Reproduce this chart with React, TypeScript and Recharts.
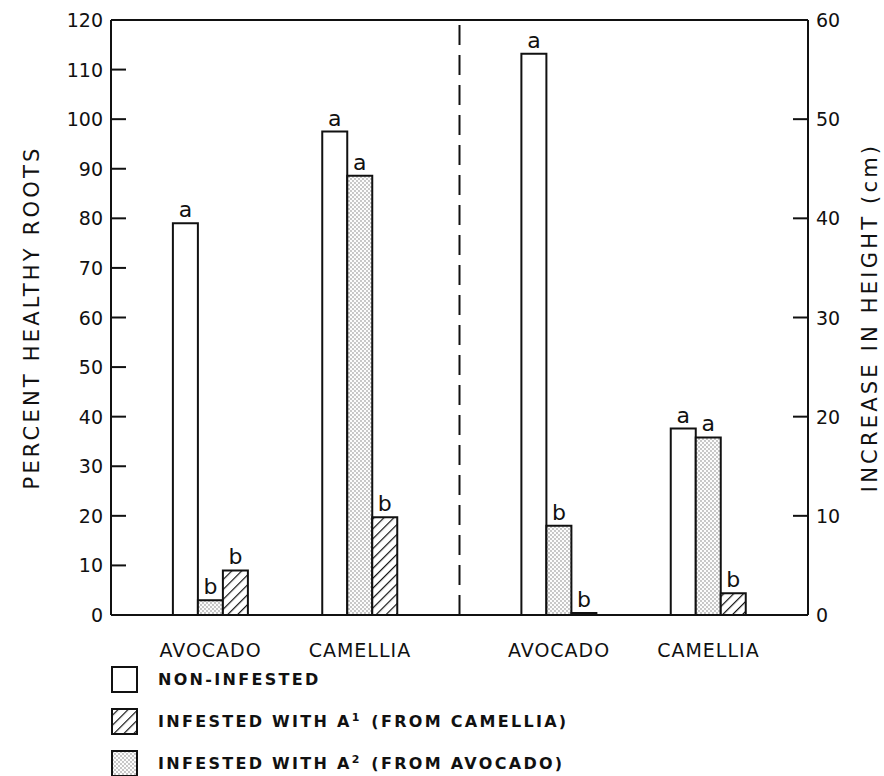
import { Bar, BarChart, LabelList, Legend, ReferenceLine, XAxis, YAxis } from "recharts";

const CATEGORIES = ["AVOCADO", "CAMELLIA", "AVOCADO", "CAMELLIA"];
// left half is read on the roots axis, right half on the height axis
const MEASURE = ["roots", "roots", "height", "height"];

const NON_INFESTED = [79, 97.5, 56.6, 18.8];
const INFESTED_A2 = [3, 88.6, 9, 17.9];
const INFESTED_A1 = [9, 19.7, 0.2, 2.2];

const SIG_NON = ["a", "a", "a", "a"];
const SIG_A2 = ["b", "a", "b", "a"];
const SIG_A1 = ["b", "b", "b", "b"];

const ROOT_TICKS = [0, 10, 20, 30, 40, 50, 60, 70, 80, 90, 100, 110, 120];
const HEIGHT_TICKS = [0, 10, 20, 30, 40, 50, 60];

const LEGEND_LABELS = [
  "NON-INFESTED",
  "INFESTED WITH A\u00b9 (FROM CAMELLIA)",
  "INFESTED WITH A\u00b2 (FROM AVOCADO)",
];

// layout: where each group sits on a 0..14 x scale, divider in the middle
const GROUP_X = [2, 5, 9, 12];
const DIVIDER_X = 7;

const INK = "#111";
const FONT = "'DejaVu Sans', sans-serif";
const TICK_LEN = 15;
const TICK_GAP = 8;

const SERIES = [
  { key: "Non", values: NON_INFESTED, sig: SIG_NON, fill: "#fff" },
  { key: "A2", values: INFESTED_A2, sig: SIG_A2, fill: "url(#stipple)" },
  { key: "A1", values: INFESTED_A1, sig: SIG_A1, fill: "url(#hatch)" },
];
const LEGEND_FILLS = ["#fff", "url(#hatch)", "url(#stipple)"];

const rows = CATEGORIES.map((name, i) => {
  const row: Record<string, string | number> = { x: GROUP_X[i], name };
  SERIES.forEach((s) => {
    row[`${MEASURE[i]}${s.key}`] = s.values[i];
    row[`${MEASURE[i]}${s.key}Sig`] = s.sig[i];
  });
  return row;
});

function Patterns() {
  return (
    <svg width={0} height={0} style={{ position: "absolute" }}>
      <defs>
        <pattern id="hatch" width={7} height={7} patternUnits="userSpaceOnUse" patternTransform="rotate(45)">
          <rect width={7} height={7} fill="#fff" />
          <line x1={0} y1={0} x2={0} y2={7} stroke={INK} strokeWidth={2.4} />
        </pattern>
        <pattern id="stipple" width={4} height={4} patternUnits="userSpaceOnUse">
          <rect width={4} height={4} fill="#fcfcfc" />
          <circle cx={1} cy={1} r={0.65} fill="#666" />
          <circle cx={3} cy={3} r={0.65} fill="#666" />
        </pattern>
      </defs>
    </svg>
  );
}

// tick marks point into the plot, labels stay outside
function InwardTick(props: any) {
  const { x, y, payload, orientation } = props;
  const left = orientation === "left";
  const axisX = left ? x + TICK_GAP : x - TICK_GAP;
  const inner = left ? axisX + TICK_LEN : axisX - TICK_LEN;
  return (
    <g>
      <line x1={axisX} x2={inner} y1={y} y2={y} stroke={INK} strokeWidth={2} />
      <text
        x={x}
        y={y}
        textAnchor={left ? "end" : "start"}
        dominantBaseline="central"
        fill={INK}
        fontSize={19}
        fontFamily={FONT}
      >
        {payload.value}
      </text>
    </g>
  );
}

function LegendText({ label }: { label: string }) {
  return (
    <span style={{ marginLeft: 19, whiteSpace: "nowrap" }}>
      {label.split(/([\u00b9\u00b2])/).map((part, i) =>
        part === "\u00b9" || part === "\u00b2" ? (
          <sup key={i} style={{ fontSize: 11, letterSpacing: 0, marginRight: 4 }}>
            {part === "\u00b9" ? "1" : "2"}
          </sup>
        ) : (
          <span key={i}>{part}</span>
        )
      )}
    </span>
  );
}

function renderLegend() {
  return (
    <div style={{ fontFamily: FONT, fontWeight: "bold", fontSize: 16, letterSpacing: 2.3, color: INK }}>
      {LEGEND_LABELS.map((label, i) => (
        <div key={label} style={{ display: "flex", alignItems: "center", height: 42 }}>
          <svg width={29} height={29} style={{ marginLeft: 110 }}>
            <rect x={2} y={2} width={25} height={25} fill={LEGEND_FILLS[i]} stroke={INK} strokeWidth={2} />
          </svg>
          <LegendText label={label} />
        </div>
      ))}
    </div>
  );
}

const titleStyle = { textAnchor: "middle" as const, fill: INK, fontSize: 21, letterSpacing: 3.2, fontFamily: FONT };

export default function App() {
  return (
    <div style={{ position: "absolute", left: 0, top: 0, width: 884, height: 776, background: "#fff", fontFamily: FONT }}>
      <Patterns />
      <BarChart width={884} height={776} data={rows} margin={{ top: 20, right: 0, bottom: 0, left: 0 }} barGap={0}>
        <XAxis
          dataKey="x"
          type="number"
          domain={[0, 14]}
          ticks={GROUP_X}
          interval={0}
          tickFormatter={(v: number) => CATEGORIES[GROUP_X.indexOf(v)]}
          tickLine={false}
          tickSize={0}
          tickMargin={29}
          height={161}
          axisLine={{ stroke: INK, strokeWidth: 2 }}
          tick={{ fill: INK, fontSize: 19, fontFamily: FONT, letterSpacing: 1 }}
        />
        <YAxis
          yAxisId="left"
          orientation="left"
          width={111}
          domain={[0, 120]}
          ticks={ROOT_TICKS}
          interval={0}
          tickLine={false}
          tickSize={0}
          tickMargin={TICK_GAP}
          axisLine={{ stroke: INK, strokeWidth: 2 }}
          tick={(p: any) => <InwardTick {...p} orientation="left" />}
          label={{ value: "PERCENT HEALTHY ROOTS", angle: -90, position: "insideLeft", offset: 32, style: titleStyle }}
        />
        <YAxis
          yAxisId="right"
          orientation="right"
          width={76}
          domain={[0, 60]}
          ticks={HEIGHT_TICKS}
          interval={0}
          tickLine={false}
          tickSize={0}
          tickMargin={TICK_GAP}
          axisLine={{ stroke: INK, strokeWidth: 2 }}
          tick={(p: any) => <InwardTick {...p} orientation="right" />}
          label={{ value: "INCREASE IN HEIGHT (cm)", angle: -90, position: "insideRight", offset: 14, style: titleStyle }}
        />
        <ReferenceLine yAxisId="left" y={120} stroke={INK} strokeWidth={2} />
        <ReferenceLine yAxisId="left" x={DIVIDER_X} stroke={INK} strokeWidth={2} strokeDasharray="20 10" />
        {SERIES.flatMap((s) =>
          [
            { m: "roots", axis: "left" },
            { m: "height", axis: "right" },
          ].map(({ m, axis }) => (
            <Bar
              key={`${m}${s.key}`}
              yAxisId={axis}
              dataKey={`${m}${s.key}`}
              stackId={s.key}
              barSize={25}
              fill={s.fill}
              stroke={INK}
              strokeWidth={2}
              isAnimationActive={false}
            >
              <LabelList
                dataKey={`${m}${s.key}Sig`}
                position="top"
                offset={6}
                style={{ fill: INK, fontSize: 22, fontFamily: FONT }}
              />
            </Bar>
          ))
        )}
        <Legend
          content={renderLegend}
          layout="vertical"
          align="center"
          verticalAlign="middle"
          wrapperStyle={{ left: 0, top: 658, width: 884, height: 126 }}
        />
      </BarChart>
    </div>
  );
}
